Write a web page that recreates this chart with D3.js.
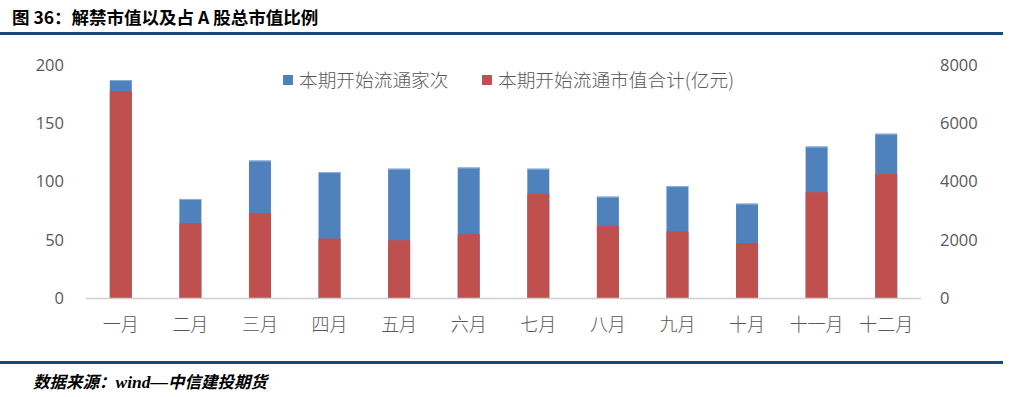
<!DOCTYPE html>
<html>
<head>
<meta charset="utf-8">
<script src="https://cdn.jsdelivr.net/npm/d3@7"></script>
<style>
  html, body { margin: 0; padding: 0; background: #fff; }
  svg { display: block; }
</style>
</head>
<body>
<div id="chart"></div>
<script>
// months on the x axis
const months = ['一月', '二月', '三月', '四月', '五月', '六月',
  '七月', '八月', '九月', '十月', '十一月', '十二月'];

// 本期开始流通家次 (left axis)
const listCount = [187, 85, 118, 108, 111, 112, 111, 87, 96, 81, 130, 141];

// 本期开始流通市值合计 in 亿元 (right axis)
const listValue = [7100, 2570, 2910, 2040, 1980, 2190, 3570, 2470, 2290, 1880, 3630, 4260];

// tick labels for both axes
const leftTicks = [0, 50, 100, 150, 200];
const rightTicks = [0, 2000, 4000, 6000, 8000];

const legendNames = ['本期开始流通家次', '本期开始流通市值合计(亿元)'];

const width = 1018;
const height = 397;
const blue = '#4f81bd';
const red = '#c0504d';
const gray = '#595959';
const cjk = '"Noto Sans CJK SC", "Noto Sans", sans-serif';
const numFont = '"Open Sans", "Noto Sans", sans-serif';

const svg = d3.select('#chart')
  .append('svg')
  .attr('width', width)
  .attr('height', height);

// plot area
const plot = { left: 86, right: 921, top: 65, bottom: 298 };

const x = d3.scaleBand()
  .domain(months)
  .range([plot.left, plot.right])
  .paddingInner(0.684)
  .paddingOuter(0.342);

const yLeft = d3.scaleLinear()
  .domain([0, 200])
  .range([plot.bottom, plot.top]);

const yRight = d3.scaleLinear()
  .domain([0, 8000])
  .range([plot.bottom, plot.top]);

// title and the rule under it
svg.append('text')
  .attr('x', 12)
  .attr('y', 24)
  .attr('font-family', cjk)
  .attr('font-weight', 'bold')
  .attr('font-size', 17.5)
  .attr('fill', '#000')
  .text('图 36：解禁市值以及占 A 股总市值比例');

svg.append('rect')
  .attr('x', 0)
  .attr('y', 32)
  .attr('width', 1003)
  .attr('height', 3)
  .attr('fill', '#17497a');

// blue bars behind (left scale)
svg.append('g')
  .selectAll('rect')
  .data(months)
  .join('rect')
  .attr('x', d => x(d))
  .attr('y', (d, i) => yLeft(listCount[i]))
  .attr('width', x.bandwidth())
  .attr('height', (d, i) => yLeft(0) - yLeft(listCount[i]))
  .attr('fill', blue);

// thin lighter top edge on blue bars
svg.append('g')
  .selectAll('rect')
  .data(months)
  .join('rect')
  .attr('x', d => x(d))
  .attr('y', (d, i) => yLeft(listCount[i]))
  .attr('width', x.bandwidth())
  .attr('height', 1)
  .attr('fill', '#8fb0d8');

// red bars in front (right scale)
svg.append('g')
  .selectAll('rect')
  .data(months)
  .join('rect')
  .attr('x', d => x(d))
  .attr('y', (d, i) => yRight(listValue[i]))
  .attr('width', x.bandwidth())
  .attr('height', (d, i) => yRight(0) - yRight(listValue[i]))
  .attr('fill', red);

// baseline
svg.append('line')
  .attr('x1', plot.left)
  .attr('x2', plot.right)
  .attr('y1', plot.bottom + 0.5)
  .attr('y2', plot.bottom + 0.5)
  .attr('stroke', '#d0d0d0')
  .attr('stroke-width', 1.5);

// left axis labels
svg.append('g')
  .selectAll('text')
  .data(leftTicks)
  .join('text')
  .attr('x', 64)
  .attr('y', d => yLeft(d))
  .attr('dy', '0.36em')
  .attr('text-anchor', 'end')
  .attr('font-family', numFont)
  .attr('font-size', 16.5)
  .attr('fill', gray)
  .text(d => d);

// right axis labels
svg.append('g')
  .selectAll('text')
  .data(rightTicks)
  .join('text')
  .attr('x', 940)
  .attr('y', d => yRight(d))
  .attr('dy', '0.36em')
  .attr('text-anchor', 'start')
  .attr('font-family', numFont)
  .attr('font-size', 16.5)
  .attr('fill', gray)
  .text(d => d);

// month labels
svg.append('g')
  .selectAll('text')
  .data(months)
  .join('text')
  .attr('x', d => x(d) + x.bandwidth() / 2)
  .attr('y', 325)
  .attr('dy', '0.36em')
  .attr('text-anchor', 'middle')
  .attr('font-family', cjk)
  .attr('font-weight', 300)
  .attr('font-size', 18)
  .attr('fill', gray)
  .text(d => d);

// legend
const legendX = [283, 482];
const legendColors = [blue, red];
const legend = svg.append('g')
  .selectAll('g')
  .data(legendNames)
  .join('g')
  .attr('transform', (d, i) => `translate(${legendX[i]},80)`);

legend.append('rect')
  .attr('x', 0)
  .attr('y', -5)
  .attr('width', 10)
  .attr('height', 10)
  .attr('fill', (d, i) => legendColors[i]);

legend.append('text')
  .attr('x', 16)
  .attr('y', 0)
  .attr('dy', '0.36em')
  .attr('font-family', cjk)
  .attr('font-weight', 300)
  .attr('font-size', 18.7)
  .attr('fill', gray)
  .text(d => d);

// footer rule and source
svg.append('rect')
  .attr('x', 0)
  .attr('y', 361)
  .attr('width', 1003)
  .attr('height', 3)
  .attr('fill', '#17497a');

const source = svg.append('text')
  .attr('x', 33)
  .attr('y', 388)
  .attr('font-family', cjk)
  .attr('font-weight', 'bold')
  .attr('font-style', 'italic')
  .attr('font-size', 16.5)
  .attr('fill', '#000');
source.append('tspan').text('数据来源：');
source.append('tspan')
  .attr('font-family', '"Liberation Serif", serif')
  .attr('font-size', 17.5)
  .text('wind—');
source.append('tspan').text('中信建投期货');
</script>
</body>
</html>
